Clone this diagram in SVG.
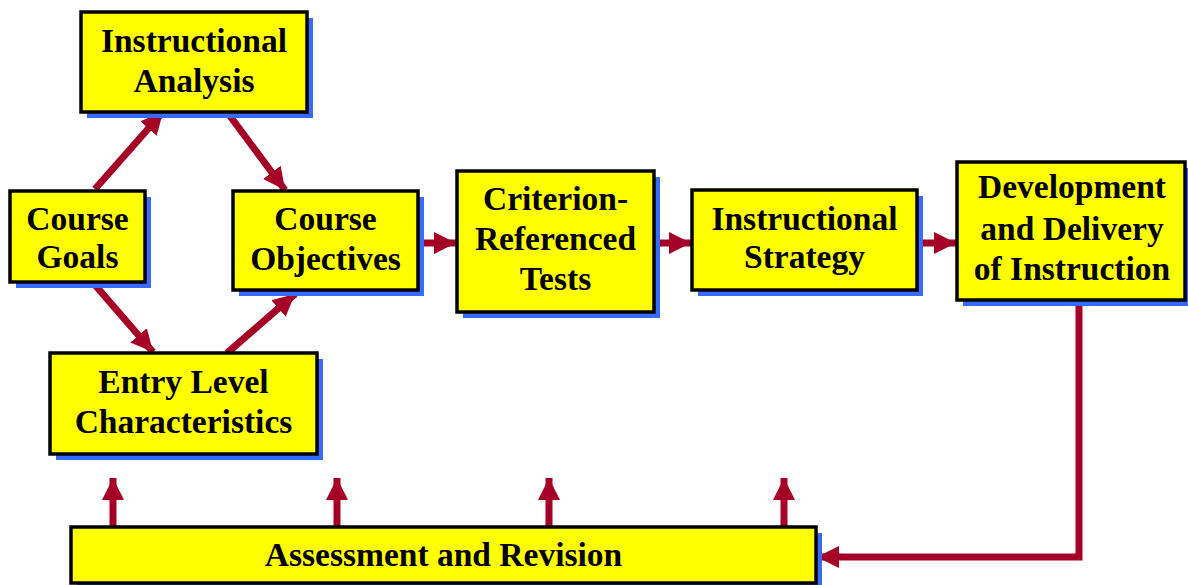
<svg xmlns="http://www.w3.org/2000/svg" width="1188" height="585" viewBox="0 0 1188 585">
<style>
.box{fill:#ffff00;stroke:#000;stroke-width:3.5}
.sh{fill:#3a6bff}
.t{font-family:"Liberation Serif","Times New Roman",serif;font-weight:bold;font-size:33.5px;fill:#000;text-anchor:middle}
.c{fill:none;stroke:#a50026;stroke-width:7;marker-end:url(#ah)}
</style>
<defs>
<marker id="ah" markerUnits="userSpaceOnUse" markerWidth="24" markerHeight="24" refX="22" refY="11" orient="auto">
<path d="M0,0 L22,11 L0,22 z" fill="#a50026"/>
</marker>
</defs>
<rect width="1188" height="585" fill="#fff"/>
<g id="connectors">
<line class="c" x1="95" y1="189" x2="163" y2="112"/>
<line class="c" x1="227" y1="112" x2="285" y2="190"/>
<line class="c" x1="95" y1="285" x2="153" y2="352"/>
<line class="c" x1="227" y1="353" x2="295" y2="294"/>
<line class="c" x1="423" y1="243" x2="456" y2="243"/>
<line class="c" x1="659" y1="243" x2="691" y2="243"/>
<line class="c" x1="922" y1="243" x2="956" y2="243"/>
<polyline class="c" points="1079,305 1079,557 817,557"/>
<line class="c" x1="113" y1="527" x2="113" y2="478"/>
<line class="c" x1="337" y1="527" x2="337" y2="478"/>
<line class="c" x1="549" y1="527" x2="549" y2="478"/>
<line class="c" x1="784" y1="527" x2="784" y2="478"/>
</g>
<g id="instructional-analysis">
<rect class="sh" x="87" y="18" width="226" height="100"/>
<rect class="box" x="81" y="12" width="226" height="100"/>
<text class="t" x="194" y="52">Instructional</text>
<text class="t" x="194" y="92">Analysis</text>
</g>
<g id="course-goals">
<rect class="sh" x="16" y="197" width="135" height="91"/>
<rect class="box" x="10" y="191" width="135" height="91"/>
<text class="t" x="77.5" y="230">Course</text>
<text class="t" x="77.5" y="268">Goals</text>
</g>
<g id="course-objectives">
<rect class="sh" x="239" y="197" width="185" height="99"/>
<rect class="box" x="233" y="191" width="185" height="99"/>
<text class="t" x="325.5" y="230">Course</text>
<text class="t" x="325.5" y="270">Objectives</text>
</g>
<g id="criterion-referenced-tests">
<rect class="sh" x="463" y="177" width="197" height="141"/>
<rect class="box" x="457" y="171" width="197" height="141"/>
<text class="t" x="555.5" y="210">Criterion-</text>
<text class="t" x="555.5" y="250">Referenced</text>
<text class="t" x="555.5" y="290">Tests</text>
</g>
<g id="instructional-strategy">
<rect class="sh" x="698" y="196" width="225" height="100"/>
<rect class="box" x="692" y="190" width="225" height="100"/>
<text class="t" x="804.5" y="230">Instructional</text>
<text class="t" x="804.5" y="268">Strategy</text>
</g>
<g id="development-delivery">
<rect class="sh" x="963" y="168" width="228" height="138"/>
<rect class="box" x="957" y="162" width="228" height="138"/>
<text class="t" x="1072" y="198">Development</text>
<text class="t" x="1072" y="240">and Delivery</text>
<text class="t" x="1072" y="280">of Instruction</text>
</g>
<g id="entry-level">
<rect class="sh" x="56" y="359" width="267" height="101"/>
<rect class="box" x="50" y="353" width="267" height="101"/>
<text class="t" x="183.5" y="393">Entry Level</text>
<text class="t" x="183.5" y="433">Characteristics</text>
</g>
<g id="assessment-revision">
<rect class="sh" x="77" y="533" width="745" height="56"/>
<rect class="box" x="71" y="527" width="745" height="56"/>
<text class="t" x="443.5" y="566">Assessment and Revision</text>
</g>
</svg>
